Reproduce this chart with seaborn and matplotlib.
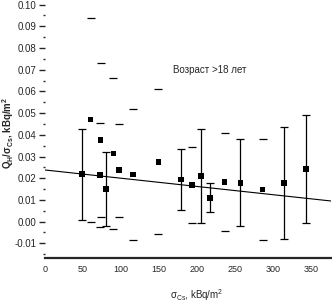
import numpy as np
import pandas as pd
import matplotlib
matplotlib.use('Agg')
import matplotlib.pyplot as plt
import seaborn as sns

# points drawn with a full error bar (vertical line + caps)
bar_x = [49, 80, 179, 205, 217, 257, 314, 343]
bar_y = [0.0219, 0.0150, 0.0194, 0.0211, 0.0110, 0.0179, 0.0179, 0.0242]
bar_err = [0.0210, 0.0172, 0.0140, 0.0215, 0.0067, 0.0200, 0.0258, 0.0249]

# points where only the caps of the error bar are visible
cap_x = [60, 72, 73, 90, 97, 116, 149, 193, 236, 286]
cap_y = [0.0470, 0.0215, 0.0376, 0.0314, 0.0237, 0.0217, 0.0276, 0.0168, 0.0183, 0.0148]
cap_err = [0.0470, 0.0239, 0.0355, 0.0346, 0.0215, 0.0300, 0.0334, 0.0176, 0.0224, 0.0234]

# trend line
trend_intercept = 0.0238
trend_slope = -3.8e-5

x_ticks = [0, 50, 100, 150, 200, 250, 300, 350]
y_ticks = [-0.01, 0.00, 0.01, 0.02, 0.03, 0.04, 0.05, 0.06, 0.07, 0.08, 0.09, 0.10]
y_tick_labels = ['-0.01', '0.00', '0.01', '0.02', '0.03', '0.04', '0.05',
                 '0.06', '0.07', '0.08', '0.09', '0.10']

df = pd.DataFrame({'x': bar_x + cap_x, 'y': bar_y + cap_y})

sns.set_style('white')
plt.rcParams['font.family'] = ['Liberation Sans', 'DejaVu Sans']
plt.rcParams['mathtext.default'] = 'regular'

fig, ax = plt.subplots(figsize=(3.32, 3.04), dpi=100)
fig.subplots_adjust(left=0.1355, right=0.997, bottom=0.151, top=0.992)

# trend line
line_x = np.array([0, 376])
ax.plot(line_x, trend_intercept + trend_slope * line_x, color='black', lw=0.8, zorder=1)

# error bars
ax.errorbar(bar_x, bar_y, yerr=bar_err, fmt='none', ecolor='black',
            elinewidth=0.9, capsize=2.8, capthick=0.9, zorder=2)
ax.errorbar(cap_x, cap_y, yerr=cap_err, fmt='none', ecolor='black',
            elinewidth=0, capsize=2.8, capthick=0.9, zorder=2)

sns.scatterplot(data=df, x='x', y='y', marker='s', color='black', s=16,
                edgecolor='none', ax=ax, zorder=3)

ax.text(168, 0.0698, 'Возраст >18 лет', fontsize=7, va='center')

ax.set_xlim(0, 376)
ax.set_ylim(-0.0168, 0.1010)
ax.set_xticks(x_ticks)
ax.set_xticklabels([str(t) for t in x_ticks], fontsize=6.5)
ax.set_xticks(np.arange(125, 351, 25), minor=True)
ax.set_yticks(y_ticks)
ax.set_yticklabels(y_tick_labels, fontsize=7)
ax.set_yticks(np.arange(-0.015, 0.1, 0.01), minor=True)

ax.tick_params(axis='x', which='major', length=0, pad=5)
ax.tick_params(axis='x', which='minor', direction='in', length=3.5, width=0.8)
ax.tick_params(axis='y', which='major', direction='out', length=4, width=1, pad=2, left=True)
ax.tick_params(axis='y', which='minor', direction='out', length=1.5, width=1, left=True)

for s in ['left', 'top', 'right']:
    ax.spines[s].set_visible(False)
ax.spines['bottom'].set_linewidth(1.6)

ax.set_xlabel(r'σ$_{Cs}$, kBq/m$^{2}$', fontsize=7)
ax.set_ylabel(r'Q$_{H}$/σ$_{Cs}$, kBq/m$^{2}$', fontsize=7, fontweight='bold')
ax.xaxis.set_label_coords(0.53, -0.115)
ax.yaxis.set_label_coords(-0.10, 0.49)

fig.savefig('out.png', dpi=100)
